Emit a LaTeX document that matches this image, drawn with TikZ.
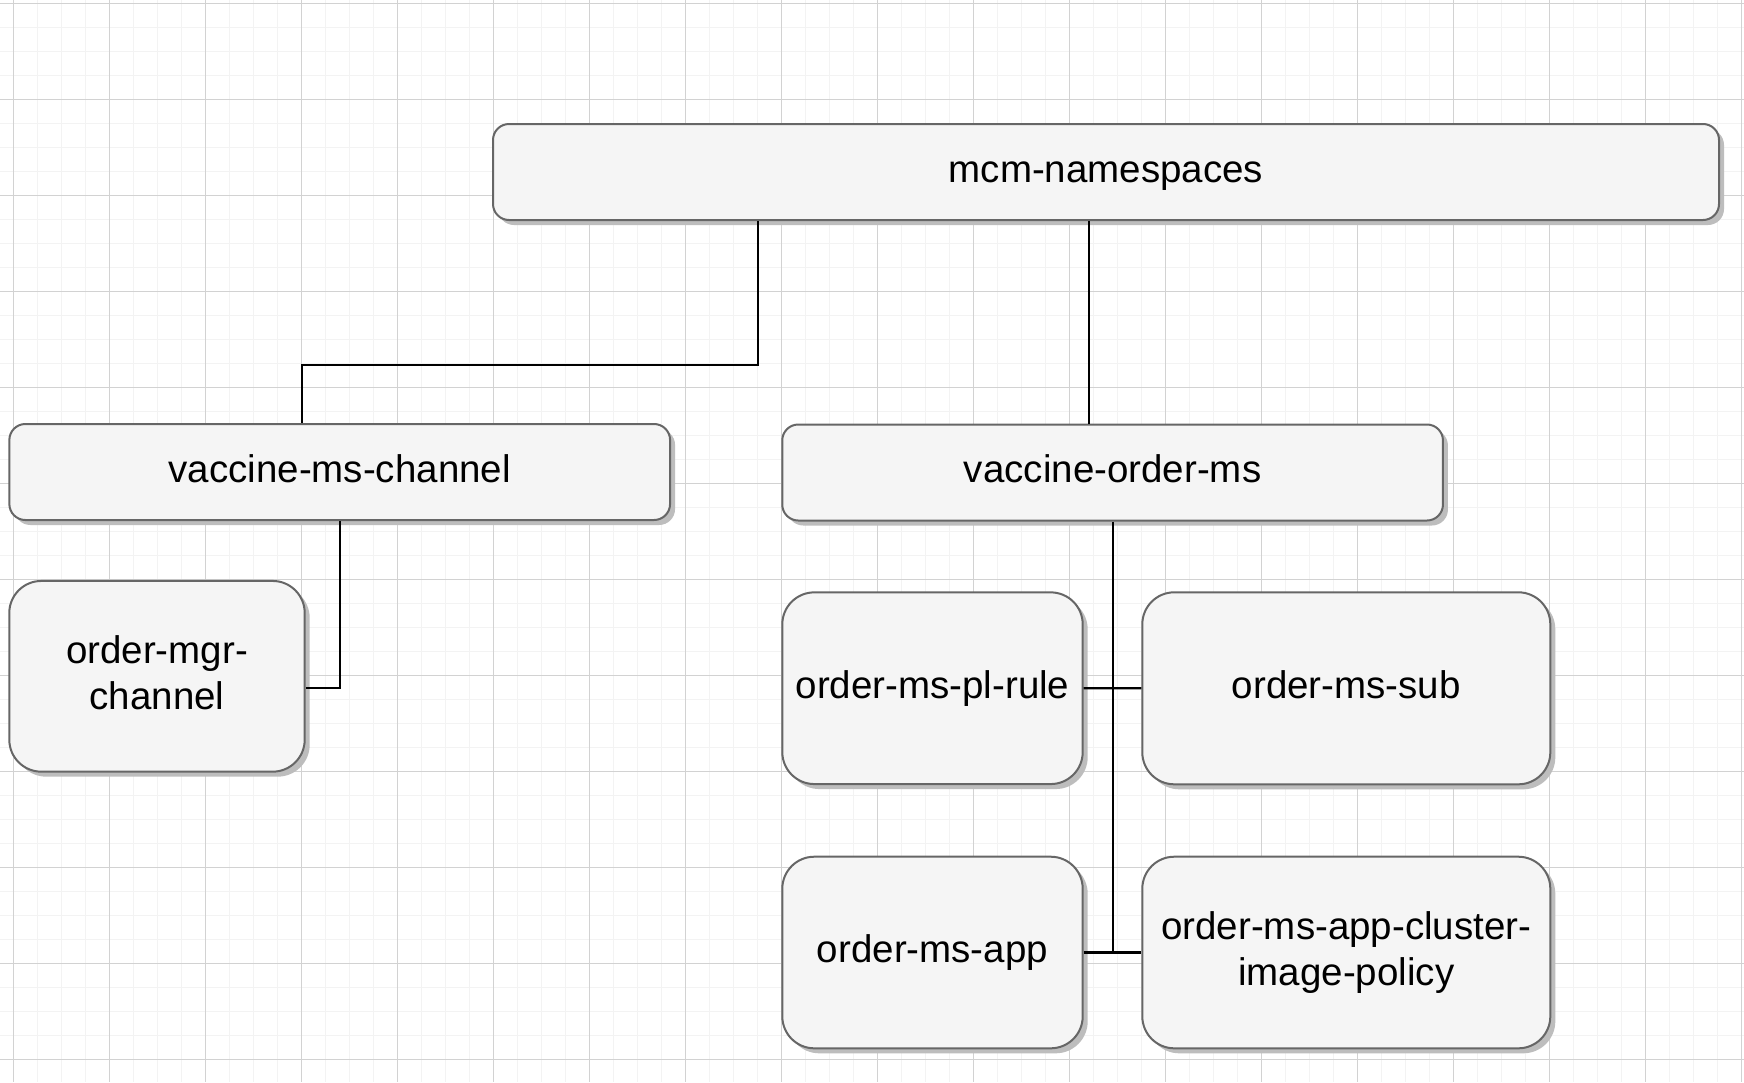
\documentclass[tikz,border=0pt]{standalone}
\usepackage{fontspec}
\setmainfont{Liberation Sans}
\usetikzlibrary{shadows}
\definecolor{boxfill}{HTML}{F5F5F5}
\definecolor{boxline}{HTML}{666666}
\definecolor{gridmin}{HTML}{F3F3F3}
\definecolor{gridmaj}{HTML}{D2D2D2}
\definecolor{shadowc}{HTML}{BDBDBD}
\begin{document}
\begin{tikzpicture}[x=1pt,y=-1pt,
  box/.style={draw=boxline, fill=boxfill, line width=2pt, inner sep=0pt, align=center,
    font=\fontsize{38.5}{46}\selectfont, text height=29pt, text depth=8.4pt,
    drop shadow={shadow xshift=5pt, shadow yshift=-5pt, fill=shadowc, opacity=1}},
  wide/.style={box, rounded corners=16pt},
  tall/.style={box, rounded corners=32pt},
  twoline/.style={text height=75pt, text depth=8.4pt},
  link/.style={line width=2.2pt, black}]
\useasboundingbox (0,0) rectangle (1744,1082);
\fill[white] (0,0) rectangle (1744,1082);
\foreach \i in {0,...,72} {\draw[gridmin, line width=1pt] ({13.3+24*\i},0) -- ({13.3+24*\i},1082);}
\foreach \i in {0,...,44} {\draw[gridmin, line width=1pt] (0,{3.3+24*\i}) -- (1744,{3.3+24*\i});}
\foreach \i in {0,...,18} {\draw[gridmaj, line width=1pt] ({13.3+96*\i},0) -- ({13.3+96*\i},1082);}
\foreach \i in {0,...,11} {\draw[gridmaj, line width=1pt] (0,{3.3+96*\i}) -- (1744,{3.3+96*\i});}

\node[wide, minimum width=1226pt, minimum height=96pt] (mcm) at (1106,172) {mcm-namespaces};
\node[wide, minimum width=660.7pt, minimum height=96pt] (vch) at (339.7,472) {vaccine-ms-channel};
\node[wide, minimum width=660.7pt, minimum height=96pt] (vord) at (1112.6,472.5) {vaccine-order-ms};
\node[tall, twoline, minimum width=295.4pt, minimum height=190.7pt] (mgr) at (157,676.3) {order-mgr-\\channel};
\node[tall, minimum width=300.4pt, minimum height=191.7pt] (rule) at (932.5,688.2) {order-ms-pl-rule};
\node[tall, minimum width=408pt, minimum height=192pt] (sub) at (1346.3,688.3) {order-ms-sub};
\node[tall, minimum width=300.4pt, minimum height=191.6pt] (app) at (932.5,952.5) {order-ms-app};
\node[tall, twoline, minimum width=408pt, minimum height=191.6pt] (pol) at (1346.3,952.5) {order-ms-app-cluster-\\image-policy};

\coordinate (j1) at (758,365);
\coordinate (j2) at (302.3,365);
\coordinate (j3) at (1089,300);
\coordinate (j4) at (340,688.3);
\coordinate (j5) at (1112.6,952.5);

\draw[link] (mcm.south -| j1) -- (j1) -- (j2) -- (j2 |- vch.north);
\draw[link] (mcm.south -| j3) -- (vord.north -| j3);
\draw[link] (vch.south -| j4) -- (j4) -- (mgr.east |- j4);
\draw[link] (vord.south -| j5) -- (j5);
\draw[link] (rule.east) -- (sub.west);
\draw[link] (app.east) -- (pol.west);
\end{tikzpicture}
\end{document}
